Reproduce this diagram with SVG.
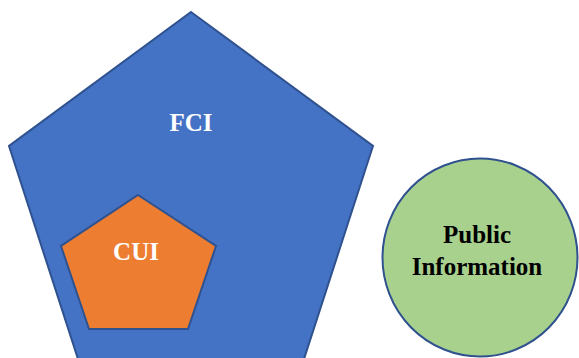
<svg xmlns="http://www.w3.org/2000/svg" width="579" height="358" viewBox="0 0 579 358">
<style>
.shape{stroke:#2F528F;stroke-width:2;stroke-linejoin:miter}
.lbl{font-family:"Liberation Serif","Times New Roman",serif;font-weight:bold;font-size:25px;text-anchor:middle}
</style>
<rect width="579" height="358" fill="#ffffff"/>
<g id="fci">
<polygon class="shape" fill="#4472C4" points="191,12 373,146 304,359 78,359 9,146"/>
<text class="lbl" x="191" y="131" fill="#ffffff">FCI</text>
</g>
<g id="cui">
<polygon class="shape" fill="#ED7D31" points="138,195 216,246 188,329 89,329 61,246"/>
<text class="lbl" x="136" y="260" fill="#ffffff">CUI</text>
</g>
<g id="public">
<ellipse class="shape" fill="#A9D18E" cx="480" cy="257.5" rx="97.5" ry="99"/>
<text class="lbl" x="477" y="243" fill="#000000">Public</text>
<text class="lbl" x="477" y="275" fill="#000000">Information</text>
</g>
<g id="connectors"></g>
</svg>
